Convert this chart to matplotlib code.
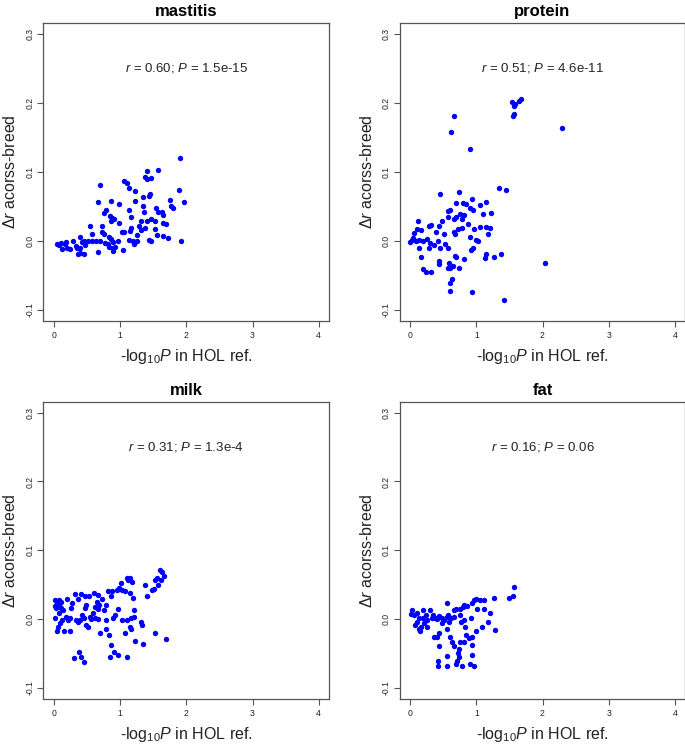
import matplotlib
matplotlib.use("Agg")
import matplotlib.pyplot as plt

plt.rcParams["font.family"] = ["Liberation Sans", "DejaVu Sans"]
plt.rcParams["mathtext.fontset"] = "custom"
plt.rcParams["mathtext.rm"] = "Liberation Sans"
plt.rcParams["mathtext.it"] = "Liberation Sans:italic"

# -log10 P in HOL reference (x) and delta r across breeds (y)
mastitis_x = [1.90, 1.89, 1.96, 1.92, 1.58, 1.40, 1.41, 1.37, 1.46, 1.06, 1.10, 1.14, 1.23,
              0.69, 0.67, 0.86, 0.99, 1.23, 1.35, 1.45, 1.44, 1.75, 1.77, 1.80, 1.54, 1.58,
              1.64, 1.65, 1.14, 1.35, 1.36, 0.79, 0.76, 0.84, 0.88, 0.91, 0.86, 1.16, 1.31,
              1.46, 1.52, 1.41, 0.99, 1.65, 1.70, 0.54, 0.72, 1.29, 1.37, 1.32, 1.53, 1.16,
              1.15, 1.06, 1.03, 0.73, 0.58, 0.75, 1.55, 1.26, 1.65, 1.73, 0.40, 1.13, 1.19,
              1.26, 1.44, 1.47, 1.21, 0.83, 0.86, 0.97, 0.89, 0.81, 0.90, 0.93, 0.77, 0.69,
              0.64, 0.57, 0.52, 0.46, 0.42, 0.47, 0.40, 0.39, 0.46, 0.36, 0.67, 0.90, 1.04,
              0.83, 0.29, 0.33, 0.35, 0.25, 0.17, 0.19, 0.13, 0.10, 0.04, 0.08, 0.20]
mastitis_y = [0.120, 0.073, 0.056, -0.001, 0.103, 0.101, 0.089, 0.092, 0.091, 0.087, 0.084,
              0.076, 0.072, 0.081, 0.056, 0.058, 0.053, 0.058, 0.063, 0.067, 0.065, 0.059,
              0.050, 0.048, 0.047, 0.042, 0.041, 0.037, 0.045, 0.050, 0.041, 0.044, 0.040,
              0.036, 0.033, 0.031, 0.029, 0.035, 0.029, 0.031, 0.029, 0.029, 0.025, 0.026,
              0.024, 0.022, 0.022, 0.021, 0.018, 0.015, 0.017, 0.019, 0.014, 0.013, 0.012,
              0.013, 0.010, 0.010, 0.008, 0.008, 0.007, 0.004, 0.006, 0.001, -0.001, 0.000,
              0.001, -0.001, -0.005, 0.006, 0.002, -0.001, -0.002, -0.005, -0.010, -0.009,
              -0.004, 0.000, -0.001, -0.001, 0.000, -0.001, -0.002, -0.006, -0.010, -0.018,
              -0.019, -0.020, -0.016, -0.015, -0.014, -0.009, -0.001, -0.007, -0.010, -0.012,
              -0.005, -0.002, -0.012, -0.004, -0.005, -0.006, -0.010]

protein_x = [2.30, 2.04, 1.42, 0.94, 0.60, 0.66, 0.62, 0.91, 1.54, 1.59, 1.57, 1.64, 1.68,
             1.57, 1.56, 1.34, 1.45, 0.45, 0.74, 0.94, 1.15, 1.05, 0.69, 0.80, 0.84, 0.90,
             0.95, 0.58, 0.61, 1.10, 1.22, 0.76, 0.82, 0.70, 0.57, 0.48, 0.12, 0.78, 0.67,
             0.87, 0.32, 0.28, 0.44, 0.78, 0.97, 1.06, 1.14, 1.20, 1.18, 0.72, 0.66, 0.68,
             0.51, 0.39, 0.10, 0.17, 0.06, 0.90, 1.00, 1.02, 0.03, 0.05, 0.00, 0.09, 0.14,
             0.20, 0.26, 0.30, 0.28, 0.36, 0.42, 0.45, 0.52, 0.58, 0.13, 0.16, 0.19, 0.24,
             0.31, 0.43, 0.43, 0.59, 0.60, 0.65, 0.70, 0.68, 0.74, 0.81, 0.92, 0.95, 1.13,
             1.14, 1.26, 1.37, 0.64, 0.61, 0.58]
protein_y = [0.164, -0.032, -0.086, -0.074, -0.073, 0.181, 0.157, 0.133, 0.201, 0.198, 0.195,
             0.202, 0.206, 0.184, 0.181, 0.077, 0.073, 0.067, 0.070, 0.060, 0.056, 0.052,
             0.055, 0.055, 0.053, 0.048, 0.045, 0.043, 0.045, 0.039, 0.040, 0.038, 0.037,
             0.035, 0.034, 0.029, 0.029, 0.032, 0.031, 0.024, 0.023, 0.021, 0.021, 0.019,
             0.017, 0.020, 0.020, 0.018, 0.010, 0.017, 0.012, 0.010, 0.010, 0.013, 0.017,
             0.015, 0.011, 0.006, 0.001, -0.001, 0.001, 0.004, -0.002, -0.001, 0.001, -0.001,
             0.003, -0.004, -0.011, -0.006, -0.001, -0.010, -0.005, -0.010, -0.010, -0.024,
             -0.041, -0.046, -0.046, -0.029, -0.034, -0.032, -0.039, -0.037, -0.024, -0.022,
             -0.039, -0.027, -0.014, -0.010, -0.025, -0.020, -0.023, -0.019, -0.055, -0.061,
             -0.039]

milk_x = [1.60, 1.64, 1.67, 1.62, 1.56, 1.53, 1.58, 1.51, 1.48, 1.70, 1.52, 1.40, 1.37,
          1.33, 1.31, 1.34, 1.23, 1.11, 1.15, 1.18, 1.12, 1.01, 0.99, 0.96, 1.03, 1.07,
          1.15, 1.19, 1.21, 1.21, 1.16, 1.11, 1.15, 1.17, 1.08, 1.10, 0.97, 0.91, 0.87,
          0.85, 0.83, 0.78, 0.69, 0.79, 0.90, 0.93, 0.97, 1.03, 0.82, 0.87, 0.88, 0.78,
          0.76, 0.72, 0.65, 0.68, 0.66, 0.62, 0.62, 0.67, 0.59, 0.55, 0.52, 0.49, 0.45,
          0.43, 0.40, 0.36, 0.33, 0.47, 0.48, 0.53, 0.47, 0.41, 0.36, 0.32, 0.61, 0.66,
          0.28, 0.26, 0.25, 0.21, 0.20, 0.18, 0.16, 0.24, 0.12, 0.08, 0.09, 0.05, 0.01,
          0.01, 0.01, 0.05, 0.08, 0.10, 0.14, 0.07, 0.10, 0.03, 0.06, 0.31, 0.38, 0.41,
          0.45, 0.56]
milk_y = [0.071, 0.069, 0.063, 0.057, 0.060, 0.057, 0.050, 0.044, 0.042, -0.029, -0.020,
          0.033, 0.050, -0.009, -0.005, -0.036, -0.032, 0.059, 0.059, 0.054, 0.056, 0.052,
          0.045, 0.042, 0.042, 0.040, 0.038, 0.030, 0.013, 0.003, 0.001, -0.002, -0.011,
          -0.014, -0.020, -0.056, -0.052, -0.048, -0.038, -0.056, -0.024, -0.015, -0.020,
          -0.001, 0.001, 0.006, 0.014, -0.002, 0.040, 0.033, 0.040, 0.020, 0.013, 0.029,
          0.025, 0.020, 0.014, 0.018, 0.001, 0.000, 0.008, 0.003, -0.011, -0.009, 0.001,
          0.006, -0.001, -0.005, -0.002, 0.016, 0.020, 0.033, 0.033, 0.036, 0.029, 0.036,
          0.038, 0.035, 0.023, 0.016, 0.001, -0.001, 0.029, 0.003, -0.018, -0.017, -0.001,
          0.008, -0.006, -0.017, 0.028, 0.019, 0.001, 0.023, 0.020, 0.016, 0.013, 0.028,
          0.025, 0.016, -0.011, -0.057, -0.048, -0.056, -0.062, 0.000]

fat_x = [1.57, 1.56, 1.50, 1.27, 1.28, 1.18, 1.21, 1.12, 1.12, 1.08, 1.05, 1.00, 1.01, 1.00,
         0.96, 0.93, 0.92, 0.93, 0.94, 0.94, 0.97, 0.91, 0.89, 0.85, 0.86, 0.82, 0.80, 0.82,
         0.83, 0.77, 0.81, 0.75, 0.75, 0.75, 0.69, 0.66, 0.74, 0.74, 0.72, 0.67, 0.63, 0.61,
         0.69, 0.71, 0.79, 0.56, 0.56, 0.42, 0.42, 0.44, 0.44, 0.41, 0.36, 0.55, 0.56, 0.58,
         0.55, 0.51, 0.48, 0.44, 0.48, 0.41, 0.37, 0.34, 0.30, 0.33, 0.26, 0.25, 0.24, 0.19,
         0.20, 0.21, 0.16, 0.15, 0.13, 0.10, 0.08, 0.06, 0.03, 0.01, 0.10, 0.13, 0.66, 0.62,
         0.59]
fat_y = [0.047, 0.033, 0.031, 0.030, -0.016, -0.005, 0.008, 0.028, 0.015, -0.012, 0.028,
         0.029, 0.014, -0.017, 0.028, 0.023, 0.001, -0.026, -0.038, -0.052, -0.069, -0.065,
         -0.027, -0.024, 0.019, 0.020, 0.018, -0.002, -0.011, -0.004, -0.033, -0.034, 0.006,
         0.015, 0.015, 0.013, -0.044, -0.055, -0.049, -0.040, -0.034, -0.026, -0.065, -0.061,
         -0.069, -0.069, -0.054, -0.069, -0.061, -0.039, -0.020, -0.026, -0.026, -0.015,
         0.023, 0.006, 0.003, -0.002, 0.002, 0.005, -0.006, 0.000, 0.001, 0.006, 0.013,
         0.001, -0.002, -0.012, 0.006, 0.013, 0.001, -0.006, -0.011, -0.018, 0.001, 0.008,
         -0.009, 0.006, 0.013, 0.007, -0.004, -0.015, 0.003, 0.001, -0.004]

traits = ["mastitis", "protein", "milk", "fat"]
stats = ["$\\it{r}$ = 0.60; $\\it{P}$ = 1.5e-15",
         "$\\it{r}$ = 0.51; $\\it{P}$ = 4.6e-11",
         "$\\it{r}$ = 0.31; $\\it{P}$ = 1.3e-4",
         "$\\it{r}$ = 0.16; $\\it{P}$ = 0.06"]
xs = [mastitis_x, protein_x, milk_x, fat_x]
ys = [mastitis_y, protein_y, milk_y, fat_y]

x_ticks = [0, 1, 2, 3, 4]
y_ticks = [-0.1, 0.0, 0.1, 0.2, 0.3]
y_ticklabels = ["-0.1", "0.0", "0.1", "0.2", "0.3"]

W, H = 685, 744
fig = plt.figure(figsize=(W / 100, H / 100), dpi=100)

# panel boxes in pixels: left, top, width, height
boxes = [(43.3, 22.7, 286, 298), (399.5, 22.7, 286, 298),
         (43.3, 401.7, 286, 297), (399.5, 401.7, 286, 297)]

box_col = "#555555"
for i, trait in enumerate(traits):
    left, top, w, h = boxes[i]
    ax = fig.add_axes([left / W, 1 - (top + h) / H, w / W, h / H])
    ax.scatter(xs[i], ys[i], s=15, color="#0000ff", linewidths=0, zorder=3)
    ax.set_xlim(-0.16, 4.16)
    ax.set_ylim(-0.116, 0.316)
    ax.set_xticks(x_ticks)
    ax.set_xticklabels([str(t) for t in x_ticks])
    ax.set_yticks(y_ticks)
    ax.set_yticklabels(y_ticklabels, rotation=90, va="center")
    ax.tick_params(direction="out", length=4, width=0.8, color=box_col,
                   labelsize=6.2, colors="#222222")
    ax.tick_params(axis="x", pad=3.5)
    ax.tick_params(axis="y", pad=2.5)
    for sp in ax.spines.values():
        sp.set_color(box_col)
        sp.set_linewidth(0.9)

    ax.set_title(trait, fontsize=12, fontweight="bold", pad=4.5)
    ax.text(2, 0.25, stats[i], ha="center", va="center", fontsize=9.5, color="#222222")
    ax.text(0.5, -40 / h, "-log$_{10}$$\\it{P}$ in HOL ref.", transform=ax.transAxes,
            ha="center", va="baseline", fontsize=11.5, color="#222222")
    ax.text(-33 / w, 0.5, "Δ$\\it{r}$ acorss-breed", transform=ax.transAxes,
            ha="center", va="center", rotation=90, fontsize=11.5, color="#222222")

fig.savefig("out.png", dpi=100)
